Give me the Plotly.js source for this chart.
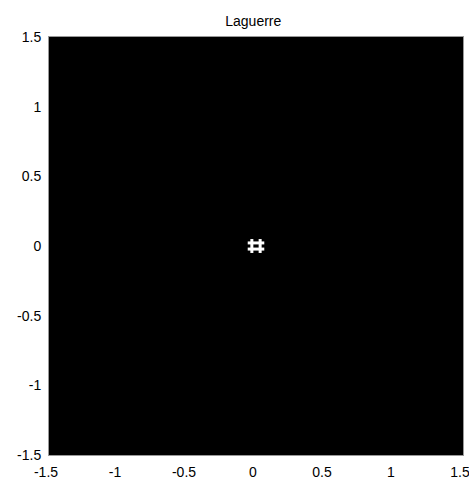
<!DOCTYPE html>
<html>
<head>
<meta charset="utf-8">
<script src="https://cdn.plot.ly/plotly-3.0.1.min.js"></script>
<style>html,body{margin:0;padding:0;background:#fff;}</style>
</head>
<body>
<div id="chart" style="width:469px;height:479px;"></div>
<script>
// Axis ticks
const tickVals = [-1.5, -1, -0.5, 0, 0.5, 1, 1.5];
const tickText = ["-1.5", "-1", "-0.5", "0", "0.5", "1", "1.5"];
// White "#" mark near the origin (segments separated by null)
const hashX = [-0.03, -0.03, null, 0.03, 0.03, null, -0.06, 0.06, null, -0.06, 0.06];
const hashY = [0.05, -0.05, null, 0.05, -0.05, null, 0.022, 0.022, null, -0.022, -0.022];

const fontFam = "Liberation Sans, Arial, sans-serif";

const trace = {
  x: hashX, y: hashY, type: 'scatter', mode: 'lines',
  line: {color: '#ffffff', width: 3},
  connectgaps: false, hoverinfo: 'skip', showlegend: false
};

const axisCommon = {
  range: [-1.5, 1.5], tickvals: tickVals, ticktext: tickText,
  showgrid: false, zeroline: false, showline: true, mirror: true,
  linecolor: '#999999', linewidth: 1, ticks: '',
  ticklabeloverflow: 'allow',
  tickfont: {family: fontFam, size: 14, color: '#000'}
};

const layout = {
  width: 469, height: 479,
  margin: {l: 49, r: 6, t: 37, b: 24},
  paper_bgcolor: '#ffffff', plot_bgcolor: '#000000',
  title: {text: 'Laguerre', x: 0.54, xanchor: 'center', y: 0.955, yanchor: 'middle',
          font: {family: fontFam, size: 14, color: '#000'}},
  xaxis: Object.assign({}, axisCommon, {ticklabelstandoff: 4, ticklabelshift: -3}),
  yaxis: Object.assign({}, axisCommon, {ticklabelstandoff: 4}),
  showlegend: false
};

Plotly.newPlot('chart', [trace], layout, {displayModeBar: false, staticPlot: true});
</script>
</body>
</html>
